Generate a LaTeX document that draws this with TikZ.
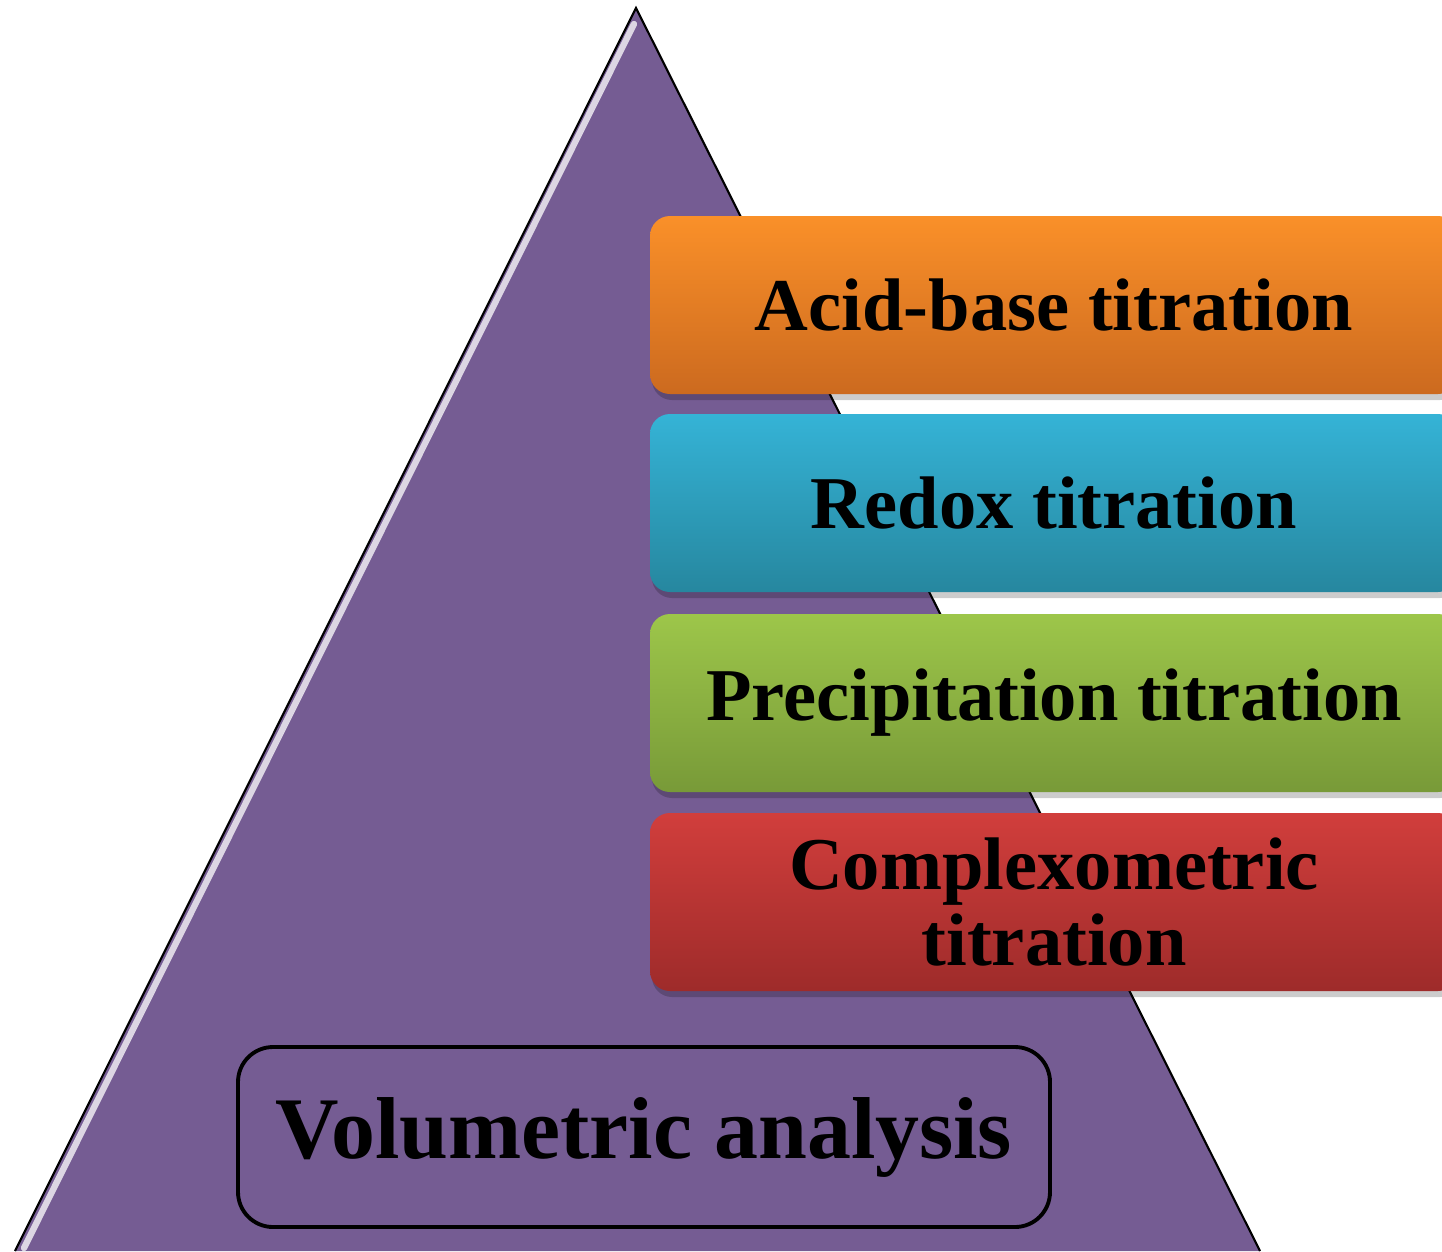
\documentclass[tikz,border=0pt]{standalone}
\usepackage{fontspec}
\setmainfont{Liberation Serif}
\usetikzlibrary{shadows}

\definecolor{pyramid}{HTML}{755C93}
\definecolor{orangetop}{HTML}{FA9029}
\definecolor{orangebot}{HTML}{CC6A1F}
\definecolor{bluetop}{HTML}{35B3D6}
\definecolor{bluebot}{HTML}{26879F}
\definecolor{greentop}{HTML}{9DC64A}
\definecolor{greenbot}{HTML}{789A38}
\definecolor{redtop}{HTML}{D13E3C}
\definecolor{redbot}{HTML}{9E2B2A}

\begin{document}
\begin{tikzpicture}[
	    x=0.1mm, y=-0.1mm,
	    titrbox/.style={rectangle, rounded corners=2mm, minimum width=80.8mm, minimum height=17.8mm,
	        inner sep=0pt, align=center, font=\fontsize{21.2}{21.5}\selectfont\bfseries,
	        drop shadow={shadow xshift=0.2mm, shadow yshift=-0.6mm, opacity=0.2, fill=black}},
	    mainbox/.style={rectangle, rounded corners=3.5mm, draw=black, line width=1.1pt,
	        minimum width=81.2mm, minimum height=18mm, inner sep=0pt,
	        font=\fontsize{25}{28}\selectfont\bfseries}
	]
		\useasboundingbox (0,0) rectangle (1442,1251);

		\coordinate (apex) at (636,8);
		\coordinate (baseL) at (15,1251);
		\coordinate (baseR) at (1260,1251);

		\fill[pyramid] (apex) -- (baseR) -- (baseL) -- cycle;
		\draw[black, line width=0.6pt] (baseL) -- (apex) -- (baseR);
		\draw[white, line width=1.8pt, opacity=0.75, line cap=round] (634,24) -- (24,1248);

		\node[titrbox, top color=orangetop, bottom color=orangebot] (acid) at (1054,305) {Acid-base titration};
		\node[titrbox, top color=bluetop, bottom color=bluebot] (redox) at (1054,503) {Redox titration};
		\node[titrbox, top color=greentop, bottom color=greenbot] (precip) at (1054,703) {Precipitation titration};
		\node[titrbox, top color=redtop, bottom color=redbot] (complex) at (1054,902) {Complexometric\\titration};

		\node[mainbox] (volum) at (644,1137) {Volumetric analysis};
	\end{tikzpicture}
\end{document}
